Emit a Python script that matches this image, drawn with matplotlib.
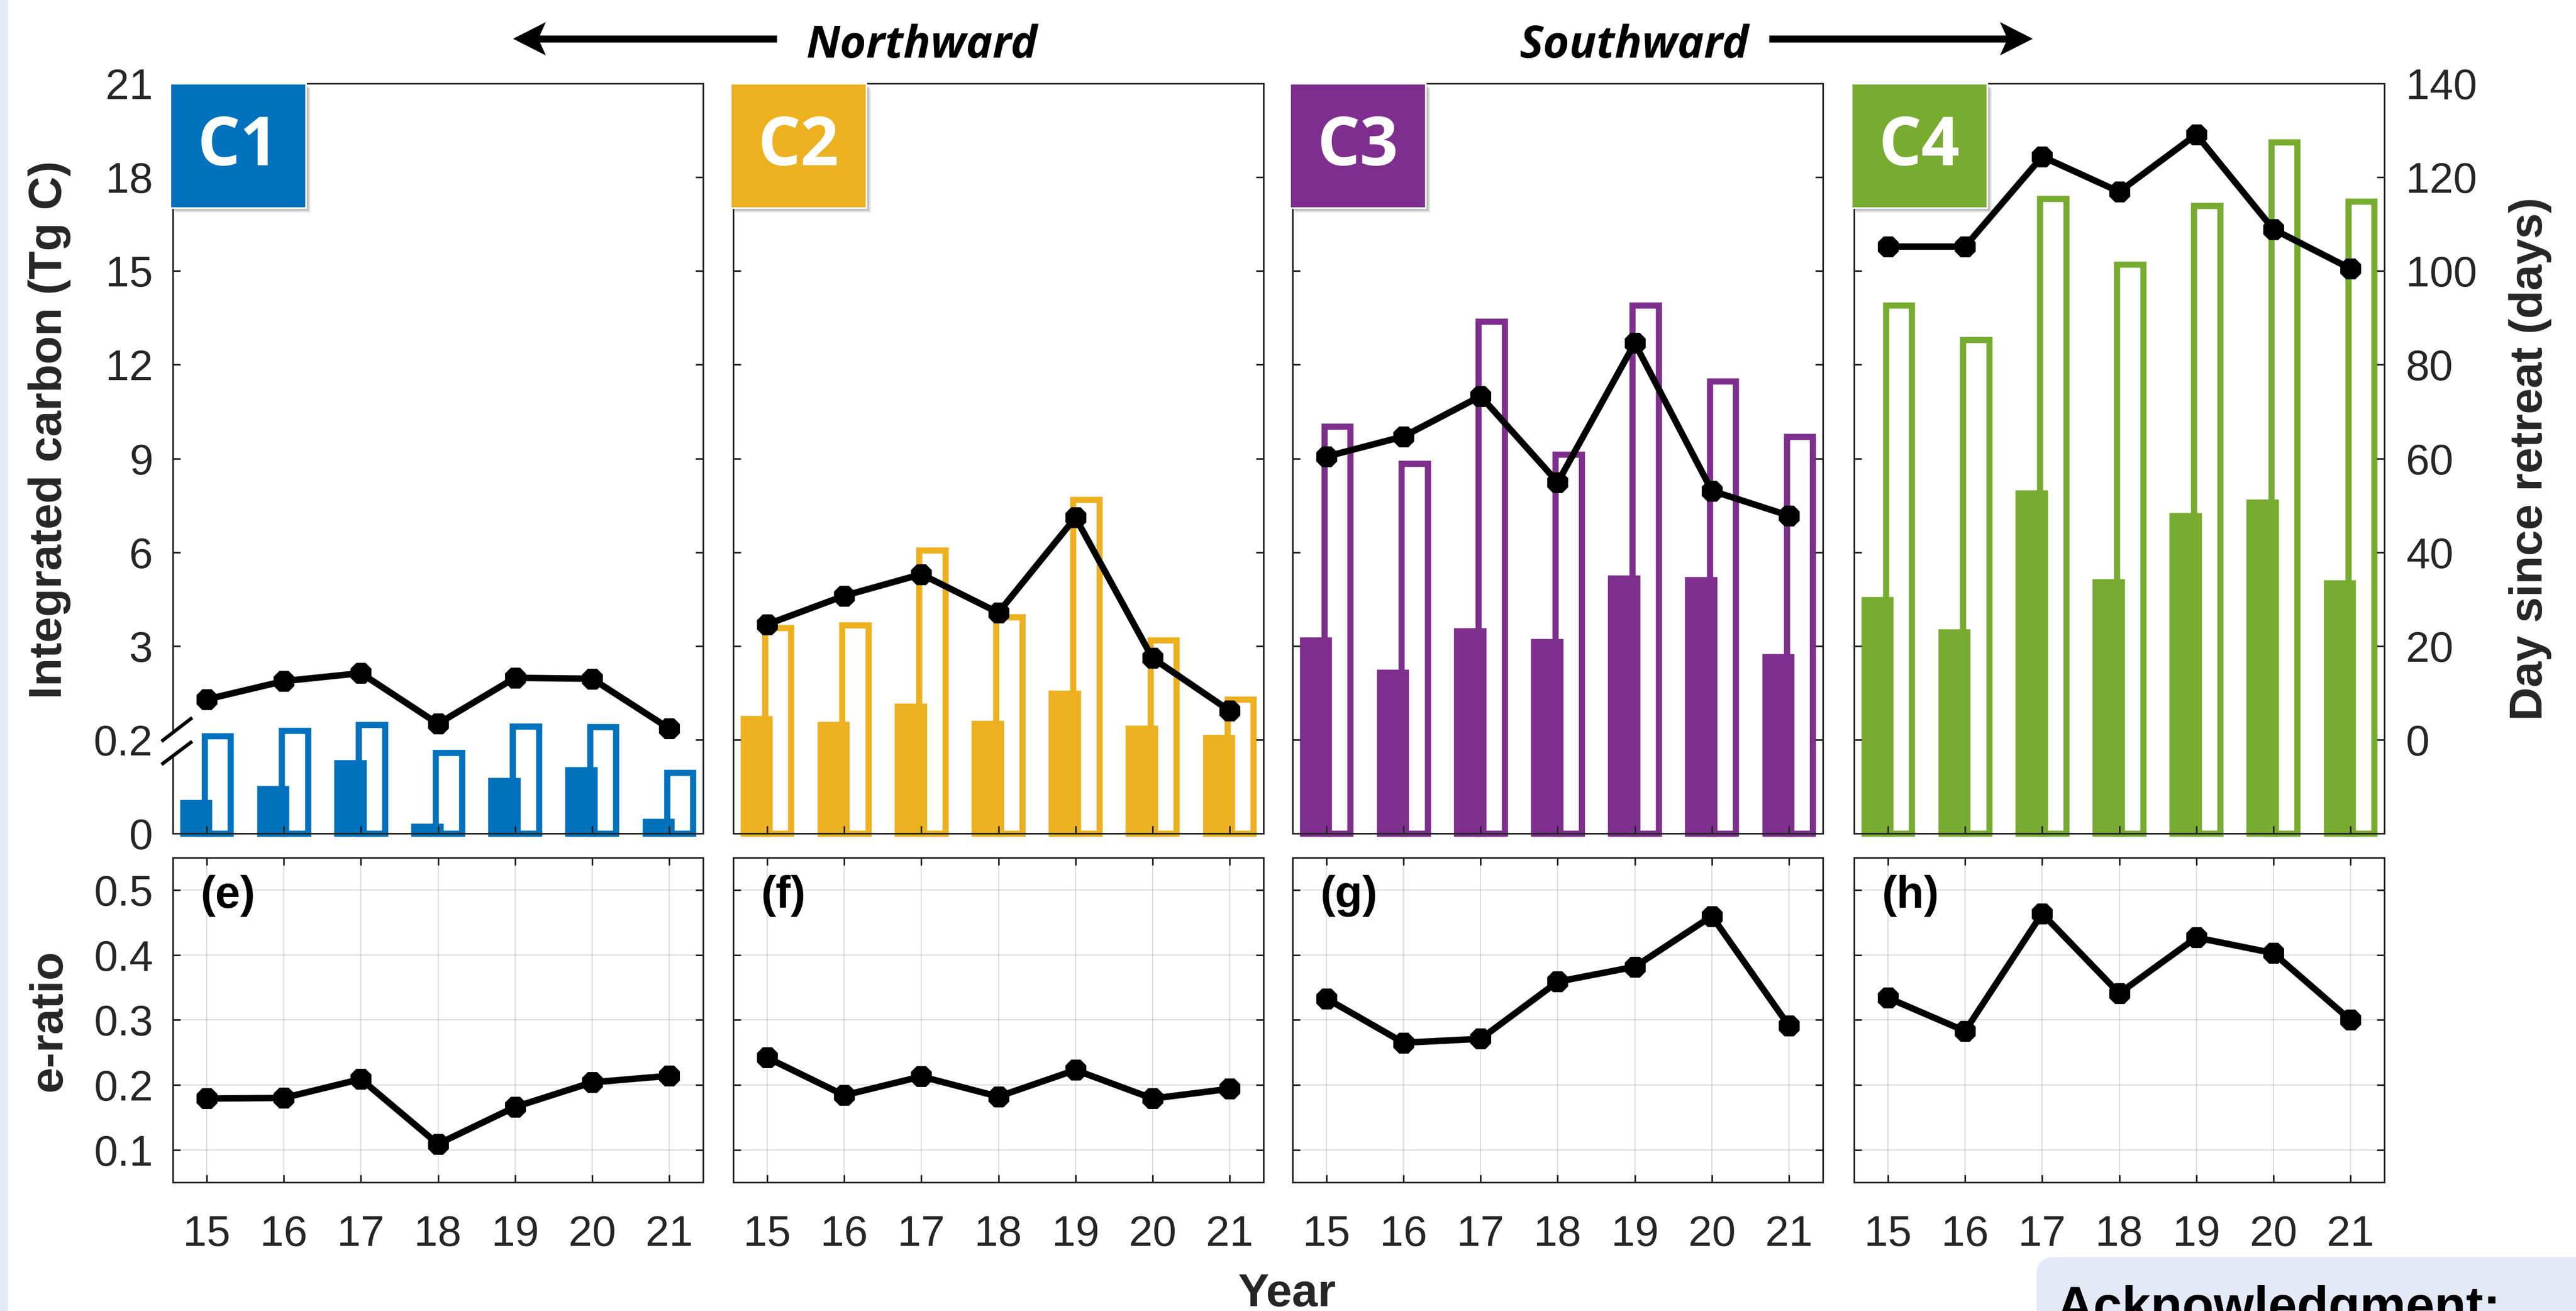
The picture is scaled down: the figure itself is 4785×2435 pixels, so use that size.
import numpy as np
import matplotlib
matplotlib.use("Agg")
import matplotlib.pyplot as plt
from matplotlib.patches import Rectangle, Polygon, FancyBboxPatch
from matplotlib.lines import Line2D

plt.rcParams["font.family"] = ["Liberation Sans", "DejaVu Sans"]

# ---------------------------------------------------------------- data
years = [15, 16, 17, 18, 19, 20, 21]
year_labels = ["15", "16", "17", "18", "19", "20", "21"]
regions = ["C1", "C2", "C3", "C4"]
panel_tags = ["(e)", "(f)", "(g)", "(h)"]
colors = ["#0072BD", "#EDB120", "#7E2F8E", "#77AC30"]

# integrated carbon (Tg C): filled bars and open bars
c1_filled = [0.065, 0.095, 0.150, 0.015, 0.113, 0.135, 0.025]
c1_open = [0.311, 0.479, 0.641, 0.172, 0.608, 0.576, 0.130]
c2_filled = [0.828, 0.643, 1.197, 0.674, 1.582, 0.536, 0.259]
c2_open = [3.59, 3.67, 6.06, 3.92, 7.68, 3.19, 1.41]
c3_filled = [3.18, 2.21, 3.48, 3.13, 5.16, 5.12, 2.67]
c3_open = [10.03, 8.83, 13.38, 9.13, 13.91, 11.47, 9.69]
c4_filled = [4.47, 3.45, 7.89, 5.05, 7.16, 7.59, 5.01]
c4_open = [13.91, 12.80, 17.32, 15.21, 17.09, 19.13, 17.23]

# day since sea-ice retreat (days)
c1_days = [8.6, 12.5, 14.2, 3.4, 13.2, 13.0, 2.4]
c2_days = [24.6, 30.7, 35.3, 27.1, 47.4, 17.4, 6.2]
c3_days = [60.4, 64.7, 73.3, 54.9, 84.6, 53.1, 47.8]
c4_days = [105.2, 105.2, 124.4, 116.9, 129.1, 108.9, 100.5]

# e-ratio
c1_eratio = [0.179, 0.180, 0.209, 0.109, 0.166, 0.204, 0.214]
c2_eratio = [0.242, 0.184, 0.213, 0.182, 0.223, 0.179, 0.194]
c3_eratio = [0.333, 0.265, 0.271, 0.359, 0.382, 0.460, 0.291]
c4_eratio = [0.334, 0.283, 0.464, 0.341, 0.427, 0.403, 0.300]

carbon_ticks = [0, 0.2, 3, 6, 9, 12, 15, 18, 21]
carbon_tick_labels = ["0", "0.2", "3", "6", "9", "12", "15", "18", "21"]
day_ticks = [0, 20, 40, 60, 80, 100, 120, 140]
eratio_ticks = [0.1, 0.2, 0.3, 0.4, 0.5]
eratio_tick_labels = ["0.1", "0.2", "0.3", "0.4", "0.5"]

filled_sets = [c1_filled, c2_filled, c3_filled, c4_filled]
open_sets = [c1_open, c2_open, c3_open, c4_open]
day_sets = [c1_days, c2_days, c3_days, c4_days]
eratio_sets = [c1_eratio, c2_eratio, c3_eratio, c4_eratio]

# ---------------------------------------------------------------- layout
W, H, DPI = 4785, 2435, 200
fig = plt.figure(figsize=(W / DPI, H / DPI), dpi=DPI)
fig.patch.set_facecolor("white")

AX_COLOR = "#262626"
PT = 72.0 / DPI  # points per pixel

lefts = [321, 1362, 2401, 3444]
ax_w = 985
top_y0, top_y1 = 155, 1548
bot_y0, bot_y1 = 1593, 2196
xlim = (14.56, 21.44)

# broken carbon axis: 0-0.2 stretched, 0.2-3 and 3-21 evenly spaced
kv = [-100.0, 0.0, 0.2, 3.0, 1000.0]
kp = [-1500.0, -3.0, 0.0, 3.0, 1000.0]


def fwd(v):
    return np.interp(np.asarray(v, dtype=float), kv, kp)


def inv(p):
    return np.interp(np.asarray(p, dtype=float), kp, kv)


def rect(px_left, py_top, px_w, py_h):
    return [px_left / W, 1 - (py_top + py_h) / H, px_w / W, py_h / H]


years_arr = np.array(years, dtype=float)
bar_w = 0.34
bar_off = 0.14
edge_lw = 11.5 * PT
line_lw = 12 * PT
marker_sz = 40 * PT
tick_len = 14 * PT
spine_lw = 3 * PT
tick_fs = 28.5
label_fs = 31

for i in range(4):
    col = colors[i]
    # --- upper panel: bars + line
    ax = fig.add_axes(rect(lefts[i], top_y0, ax_w, top_y1 - top_y0))
    ax.set_yscale("function", functions=(fwd, inv))
    ax.bar(years_arr + bar_off, open_sets[i], width=bar_w, facecolor="none",
           edgecolor=col, linewidth=edge_lw, clip_on=False, zorder=1)
    ax.bar(years_arr - bar_off, filled_sets[i], width=bar_w, facecolor=col,
           edgecolor=col, linewidth=edge_lw, clip_on=False, zorder=1.1)
    ax.set_ylim(0, 21)
    ax.set_xlim(*xlim)
    ax.set_yticks(carbon_ticks)
    ax.set_yticklabels(carbon_tick_labels)
    ax.set_xticks(years)
    ax.tick_params(axis="x", direction="in", length=tick_len, width=spine_lw,
                   color=AX_COLOR, bottom=True, top=False, labelbottom=False)
    ax.tick_params(axis="y", direction="in", length=tick_len, width=spine_lw,
                   color=AX_COLOR, labelcolor=AX_COLOR, labelsize=tick_fs,
                   pad=37 * PT, left=True, right=False, labelleft=(i == 0))
    for s in ax.spines.values():
        s.set_color(AX_COLOR)
        s.set_linewidth(spine_lw)
    ax.spines["right"].set_visible(False)

    ax2 = ax.twinx()
    ax2.plot(years_arr, day_sets[i], color="black", linewidth=line_lw,
             marker="8", markersize=marker_sz, markerfacecolor="black",
             markeredgecolor="black", clip_on=False, zorder=3)
    ax2.set_ylim(-20, 140)
    ax2.set_yticks(day_ticks)
    ax2.tick_params(axis="y", direction="in", length=tick_len, width=spine_lw,
                    color=AX_COLOR, labelcolor=AX_COLOR, labelsize=tick_fs,
                    pad=40 * PT, right=True, labelright=(i == 3))
    for name, s in ax2.spines.items():
        s.set_visible(name == "right")
        s.set_color(AX_COLOR)
        s.set_linewidth(spine_lw)
    ax.set_xlim(*xlim)

    # --- lower panel: e-ratio
    axb = fig.add_axes(rect(lefts[i], bot_y0, ax_w, bot_y1 - bot_y0))
    axb.plot(years_arr, eratio_sets[i], color="black", linewidth=line_lw,
             marker="8", markersize=marker_sz, markerfacecolor="black",
             markeredgecolor="black", zorder=3)
    axb.set_xlim(*xlim)
    axb.set_ylim(0.05, 0.55)
    axb.set_xticks(years)
    axb.set_xticklabels(year_labels)
    axb.set_yticks(eratio_ticks)
    axb.set_yticklabels(eratio_tick_labels)
    axb.grid(True, color=AX_COLOR, alpha=0.15, linewidth=2.2 * PT)
    axb.set_axisbelow(True)
    axb.tick_params(axis="both", direction="in", length=tick_len, width=spine_lw,
                    color=AX_COLOR, labelcolor=AX_COLOR, labelsize=tick_fs,
                    top=True, right=True)
    axb.tick_params(axis="x", pad=60 * PT)
    axb.tick_params(axis="y", pad=36 * PT, labelleft=(i == 0))
    for s in axb.spines.values():
        s.set_color(AX_COLOR)
        s.set_linewidth(spine_lw)
    axb.text(52 / ax_w, 0.882, panel_tags[i], transform=axb.transAxes,
             ha="left", va="center", fontsize=30, fontweight="bold",
             color="black")

# ---------------------------------------------------------------- overlay (pixel units)
ov = fig.add_axes([0, 0, 1, 1], zorder=10)
ov.set_xlim(0, W)
ov.set_ylim(H, 0)
ov.axis("off")
ov.patch.set_alpha(0)

PANEL_BG = "#E3E9F5"
ov.add_patch(Rectangle((0, 0), 15, H, facecolor=PANEL_BG, edgecolor="none"))
ov.add_patch(FancyBboxPatch((3783, 2335), 1100, 300,
                            boxstyle="round,pad=0,rounding_size=32",
                            facecolor=PANEL_BG, edgecolor="none"))
ov.text(3820, 2457, "Acknowledgment:", ha="left", va="baseline",
        fontsize=34.5, fontweight="bold", color="black")

# region badges
for i in range(4):
    bx, by, bw, bh = lefts[i] - 5, 155, 252, 231
    for k, a in enumerate([0.10, 0.14, 0.20]):
        off = 9 - 2 * k
        ov.add_patch(Rectangle((bx + off, by + off), bw, bh,
                               facecolor="#555555", alpha=a, edgecolor="none"))
    ov.add_patch(Rectangle((bx, by), bw, bh, facecolor=colors[i],
                           edgecolor="white", linewidth=3 * PT))
    ov.text(bx + bw / 2, by + bh / 2 + 3, regions[i], ha="center", va="center",
            fontsize=45, fontweight="bold", color="white",
            family=["Open Sans", "DejaVu Sans"])

# axis-break marks on the C1 carbon axis
ov.add_patch(Polygon([(300, 1377), (357, 1333), (357, 1377), (300, 1420)],
                     closed=True, facecolor="white", edgecolor="none"))
for y_a, y_b in [(1377, 1333), (1420, 1377)]:
    ov.add_line(Line2D([300, 357], [y_a, y_b], color="black",
                       linewidth=6.5 * PT, solid_capstyle="butt"))

# direction arrows
ov.add_line(Line2D([998, 1443], [72, 72], color="black", linewidth=13 * PT,
                   solid_capstyle="butt"))
ov.add_patch(Polygon([(953, 72), (1014, 41), (1000, 72), (1014, 103)],
                     closed=True, facecolor="black", edgecolor="none"))
ov.add_line(Line2D([3286, 3731], [72, 72], color="black", linewidth=13 * PT,
                   solid_capstyle="butt"))
ov.add_patch(Polygon([(3776, 72), (3715, 41), (3729, 72), (3715, 103)],
                     closed=True, facecolor="black", edgecolor="none"))
ov.text(1713, 107, "Northward", ha="center", va="baseline", fontsize=30,
        fontweight="bold", fontstyle="italic", color="black",
        family=["Open Sans", "DejaVu Sans"])
ov.text(3035, 107, "Southward", ha="center", va="baseline", fontsize=30,
        fontweight="bold", fontstyle="italic", color="black",
        family=["Open Sans", "DejaVu Sans"])

# axis titles
ov.text(92, 798, "Integrated carbon (Tg C)", rotation=90, ha="center",
        va="center", fontsize=label_fs, fontweight="bold", color=AX_COLOR)
ov.text(4700, 852, "Day since retreat (days)", rotation=90, ha="center",
        va="center", fontsize=label_fs, fontweight="bold", color=AX_COLOR)
ov.text(92, 1895, "e-ratio", rotation=90, ha="center", va="center",
        fontsize=label_fs, fontweight="bold", color=AX_COLOR)
ov.text(2391, 2426, "Year", ha="center", va="baseline", fontsize=label_fs,
        fontweight="bold", color=AX_COLOR)

fig.savefig("out.png", dpi=DPI)
